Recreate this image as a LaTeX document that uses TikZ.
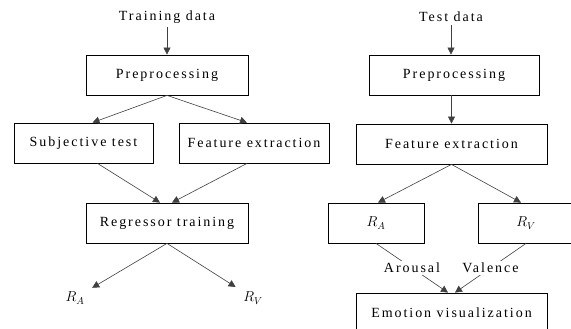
\documentclass[tikz,border=0pt]{standalone}
\usepackage{fontspec}
\setmainfont{Liberation Serif}[LetterSpace=14]
\usetikzlibrary{arrows.meta}

\tikzset{
    procbox/.style={draw, line width=0.8pt, minimum height=40pt, inner sep=2pt},
    flow/.style={draw=black!75, line width=0.6pt, -{Triangle[length=7pt, width=7pt]}},
}

\begin{document}
\begin{tikzpicture}[x=1pt, y=-1pt, font=\fontsize{14}{16}\selectfont]
    \useasboundingbox (0, 0) rectangle (571, 329);
    \clip (0, 0) rectangle (571, 329);

    % training side
    \node (train) at (167, 17) {Training data};
    \node[procbox, minimum width=162pt] (preL) at (167, 75) {Preprocessing};
    \node[procbox, minimum width=139pt] (subj) at (83.5, 143) {Subjective test};
    \node[procbox, minimum width=150pt] (featL) at (254, 143) {Feature extraction};
    \node[procbox, minimum width=162pt] (reg) at (167, 223) {Regressor training};
    \node (outA) at (75, 298) {$R_A$};
    \node (outV) at (253, 298) {$R_V$};

    \draw[flow] (train) -- (preL);
    \draw[flow] (preL.south) -- ([xshift=9pt]subj.north);
    \draw[flow] (preL.south) -- ([xshift=-7pt]featL.north);
    \draw[flow] ([xshift=14pt]subj.south) -- ([xshift=-7pt]reg.north);
    \draw[flow] ([xshift=-7pt]featL.south) -- ([xshift=5pt]reg.north);
    \draw[flow, shorten >=5pt] (reg.south) -- (outA);
    \draw[flow, shorten >=5pt] (reg.south) -- (outV);

    % test side
    \node (test) at (451, 17) {Test data};
    \node[procbox, minimum width=170pt] (preR) at (454, 75) {Preprocessing};
    \node[procbox, minimum width=191pt] (featR) at (451.5, 144) {Feature extraction};
    \node[procbox, minimum width=96pt] (boxA) at (376, 223) {$R_A$};
    \node[procbox, minimum width=96pt] (boxV) at (526, 223) {$R_V$};
    \node[procbox, minimum width=191pt] (emo) at (451.5, 313) {Emotion visualization};

    \draw[flow] (test) -- (test |- preR.north);
    \draw[flow] (preR.south -| featR) -- (featR.north);
    \draw[flow] (featR.south) -- ([xshift=2pt]boxA.north);
    \draw[flow] (featR.south) -- ([xshift=-5pt]boxV.north);
    \draw[flow] (boxA.south) -- node[fill=white, inner sep=2pt] {Arousal} ([xshift=-3.5pt]emo.north);
    \draw[flow] (boxV.south) -- node[fill=white, inner sep=2pt] {Valence} ([xshift=3.5pt]emo.north);
\end{tikzpicture}
\end{document}
